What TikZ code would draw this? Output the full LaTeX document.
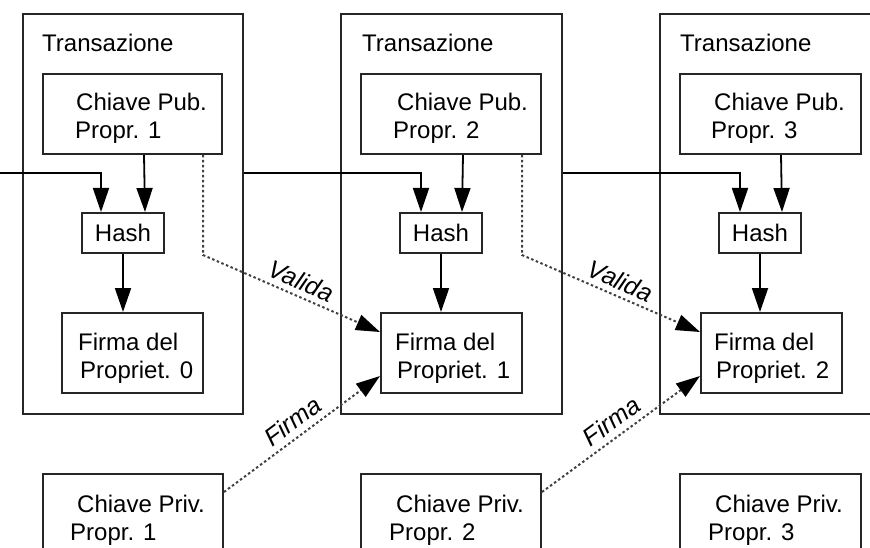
\documentclass[tikz,border=0pt]{standalone}
\usepackage{fontspec}
\setmainfont{Liberation Sans}
\usetikzlibrary{arrows.meta,calc}
\begin{document}
\begin{tikzpicture}[x=1pt,y=-1pt,
  box/.style={draw=black!85, line width=2pt, inner sep=0pt, anchor=north west},
  txbox/.style={box, minimum width=220pt, minimum height=400pt},
  pubbox/.style={box, minimum width=180pt, minimum height=80pt},
  hashbox/.style={box, minimum width=82pt, minimum height=40pt, font=\fontsize{24}{28}\selectfont},
  firmabox/.style={box, minimum width=141pt, minimum height=80pt},
  privbox/.style={box, minimum width=180pt, minimum height=110pt},
  txt/.style={anchor=base west, inner sep=0pt, font=\fontsize{24}{28}\selectfont},
  conn/.style={line width=1.8pt},
  arr/.style={conn, -{Triangle[length=24pt,width=16pt]}},
  dotarr/.style={line width=2pt, dash pattern=on 2.5pt off 2.5pt, black!75, -{Triangle[length=24pt,width=16pt,color=black]}},
  lbl/.style={font=\fontsize{25}{28}\selectfont\itshape, text=black, inner sep=0pt, sloped}
]
\useasboundingbox (0,0) rectangle (870,548);
\clip (0,0) rectangle (870,548);

% transaction boxes
\node[txbox] (tx1) at (22,13) {};
\node[txbox, minimum width=221pt] (tx2) at (340,13) {};
\node[txbox, minimum width=221pt] (tx3) at (659,13) {};
\node[txt] (tt1) at (42,52) {Transazione};
\node[txt] (tt2) at (362,52) {Transazione};
\node[txt] (tt3) at (680,52) {Transazione};

% public keys
\node[pubbox, minimum width=179pt] (pub1) at (42,73) {};
\node[pubbox] (pub2) at (360,73) {};
\node[pubbox, minimum width=181pt] (pub3) at (679,73) {};
\node[txt] (pa1) at (76,111) {Chiave Pub.};
\node[txt] (pb1) at (75,139) {Propr. 1};
\node[txt] (pa2) at (397,111) {Chiave Pub.};
\node[txt] (pb2) at (393,139) {Propr. 2};
\node[txt] (pa3) at (714,111) {Chiave Pub.};
\node[txt] (pb3) at (711,139) {Propr. 3};

% hash
\node[hashbox] (hash1) at (81,212) {Hash};
\node[hashbox] (hash2) at (399,212) {Hash};
\node[hashbox] (hash3) at (718,212) {Hash};

% signatures
\node[firmabox] (f0) at (61,312) {};
\node[firmabox] (f1) at (380,312) {};
\node[firmabox] (f2) at (700,312) {};
\node[txt] (fa0) at (78,350) {Firma del};
\node[txt] (fb0) at (80,378) {Propriet. 0};
\node[txt] (fa1) at (395,350) {Firma del};
\node[txt] (fb1) at (397,378) {Propriet. 1};
\node[txt] (fa2) at (714,350) {Firma del};
\node[txt] (fb2) at (716,378) {Propriet. 2};

% private keys
\node[privbox] (priv1) at (42,473) {};
\node[privbox] (priv2) at (360,473) {};
\node[privbox, minimum width=181pt] (priv3) at (679,473) {};
\node[txt] (qa1) at (77,512) {Chiave Priv.};
\node[txt] (qb1) at (70,540) {Propr. 1};
\node[txt] (qa2) at (396,512) {Chiave Priv.};
\node[txt] (qb2) at (389,540) {Propr. 2};
\node[txt] (qa3) at (715,512) {Chiave Priv.};
\node[txt] (qb3) at (708,540) {Propr. 3};

% incoming chain
\coordinate (in0) at (0,173);
\draw[arr] (in0) -| ($(hash1.north west)+(20,0)$);
\draw[arr] (tx1.east |- in0) -| ($(hash2.north west)+(22,0)$);
\draw[arr] (tx2.east |- in0) -| ($(hash3.north west)+(22,0)$);

% pub -> hash
\draw[arr] ($(pub1.south east)+(-79,0)$) -- ($(hash1.north east)+(-20,0)$);
\draw[arr] ($(pub2.south east)+(-79,0)$) -- ($(hash2.north east)+(-21,0)$);
\draw[arr] ($(pub3.south east)+(-81,0)$) -- ($(hash3.north east)+(-20,0)$);

% hash -> firma
\draw[arr] (hash1.south) -- (hash1.south |- f0.north);
\draw[arr] (hash2.south) -- (hash2.south |- f1.north);
\draw[arr] (hash3.south) -- (hash3.south |- f2.north);

% valida
\draw[dotarr] ($(pub1.south east)+(-20,0)$) -- ($(pub1.south east)+(-20,100)$)
  -- node[lbl, above=5pt, pos=0.52] (v1) {Valida} ($(f1.north west)+(0,20)$);
\draw[dotarr] ($(pub2.south east)+(-20,0)$) -- ($(pub2.south east)+(-20,100)$)
  -- node[lbl, above=5pt, pos=0.52] (v2) {Valida} ($(f2.north west)+(0,20)$);

% firma
\draw[dotarr] ($(priv1.north east)+(0,19)$) -- node[lbl, above=6pt, pos=0.5] (s1) {Firma} ($(f1.south west)+(0,-18)$);
\draw[dotarr] ($(priv2.north east)+(0,19)$) -- node[lbl, above=6pt, pos=0.5] (s2) {Firma} ($(f2.south west)+(0,-18)$);
\end{tikzpicture}
\end{document}
